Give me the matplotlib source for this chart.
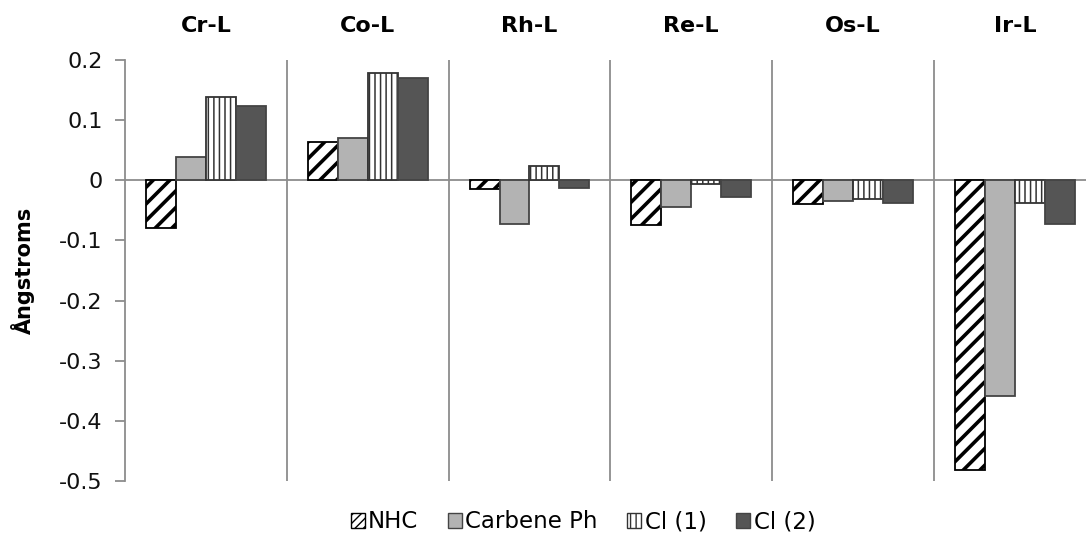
import matplotlib
matplotlib.use("Agg")
import matplotlib.pyplot as plt
import numpy as np
from matplotlib.patches import Patch

plt.rcParams['font.family'] = ['DejaVu Sans']

categories = ["Cr-L", "Co-L", "Rh-L", "Re-L", "Os-L", "Ir-L"]
series_names = ["NHC", "Carbene Ph", "Cl (1)", "Cl (2)"]
nhc = [-0.079, 0.063, -0.015, -0.075, -0.040, -0.481]
carbene_ph = [0.038, 0.070, -0.072, -0.044, -0.035, -0.359]
cl1 = [0.138, 0.179, 0.024, -0.006, -0.031, -0.037]
cl2 = [0.124, 0.170, -0.013, -0.027, -0.038, -0.073]
yticks = [0.2, 0.1, 0, -0.1, -0.2, -0.3, -0.4, -0.5]
ytick_labels = ["0.2", "0.1", "0", "-0.1", "-0.2", "-0.3", "-0.4", "-0.5"]

series = [nhc, carbene_ph, cl1, cl2]
styles = [
    dict(facecolor="white", edgecolor="black", hatch="//", hlw=2.6, lhatch="////"),
    dict(facecolor="#b3b3b3", edgecolor="#444444", hatch=None, hlw=1.0, lhatch=None),
    dict(facecolor="white", edgecolor="#333333", hatch="|||", hlw=1.1, lhatch="|||"),
    dict(facecolor="#555555", edgecolor="#444444", hatch=None, hlw=1.0, lhatch=None),
]

fig = plt.figure(figsize=(10.86, 5.47), dpi=100)
ax = fig.add_axes([125/1086, 1 - 481/547, 1 - 125/1086, (481 - 60)/547])

x = np.arange(len(categories))
bw = 0.185
offsets = (np.arange(4) - 1.5) * bw
for s, vals, st, off in zip(series_names, series, styles, offsets):
    with plt.rc_context({'hatch.linewidth': st['hlw'], 'hatch.color': st['edgecolor']}):
        bars = ax.bar(x + off, vals, width=bw, color=st['facecolor'],
                      edgecolor=st['edgecolor'], hatch=st['hatch'],
                      linewidth=1.3, zorder=3, label=s)
        for b in bars:
            try:
                b.set_hatch_linewidth(st['hlw'])
            except Exception:
                pass

ax.set_xlim(-0.5, 5.44)
ax.set_ylim(-0.5, 0.2)
for k in range(5):
    ax.axvline(k + 0.5, color="#8c8c8c", lw=1.3, zorder=1)
ax.axhline(0, color="#8c8c8c", lw=1.3, zorder=2)

for sp in ["top", "right", "bottom"]:
    ax.spines[sp].set_visible(False)
ax.spines["left"].set_color("#8c8c8c")
ax.spines["left"].set_linewidth(1.3)

ax.set_yticks(yticks)
ax.set_yticklabels(ytick_labels, fontsize=16, color="#111111")
ax.tick_params(axis="y", direction="out", length=7, width=1.3, color="#8c8c8c", pad=9)

ax.xaxis.tick_top()
ax.set_xticks(x)
ax.set_xticklabels(categories, fontsize=16, fontweight="bold")
ax.tick_params(axis="x", length=0, pad=17)

ax.set_ylabel("Ångstroms", fontsize=15, fontweight="bold")
ax.yaxis.set_label_coords(-0.094, 0.5)

handles = []
for s, st in zip(series_names, styles):
    with plt.rc_context({'hatch.linewidth': 1.6, 'hatch.color': st['edgecolor']}):
        h = Patch(facecolor=st['facecolor'], edgecolor=st['edgecolor'],
                  hatch=st['lhatch'], linewidth=1.0, label=s)
        try:
            h.set_hatch_linewidth(1.6)
        except Exception:
            pass
    handles.append(h)
fig.legend(handles=handles, loc="center", bbox_to_anchor=(583/1086, 1 - 522/547),
           ncol=4, frameon=False, fontsize=16.5, handlelength=0.6, handleheight=0.6,
           handletextpad=0.15, columnspacing=1.3)

fig.savefig("out.png", dpi=100)
